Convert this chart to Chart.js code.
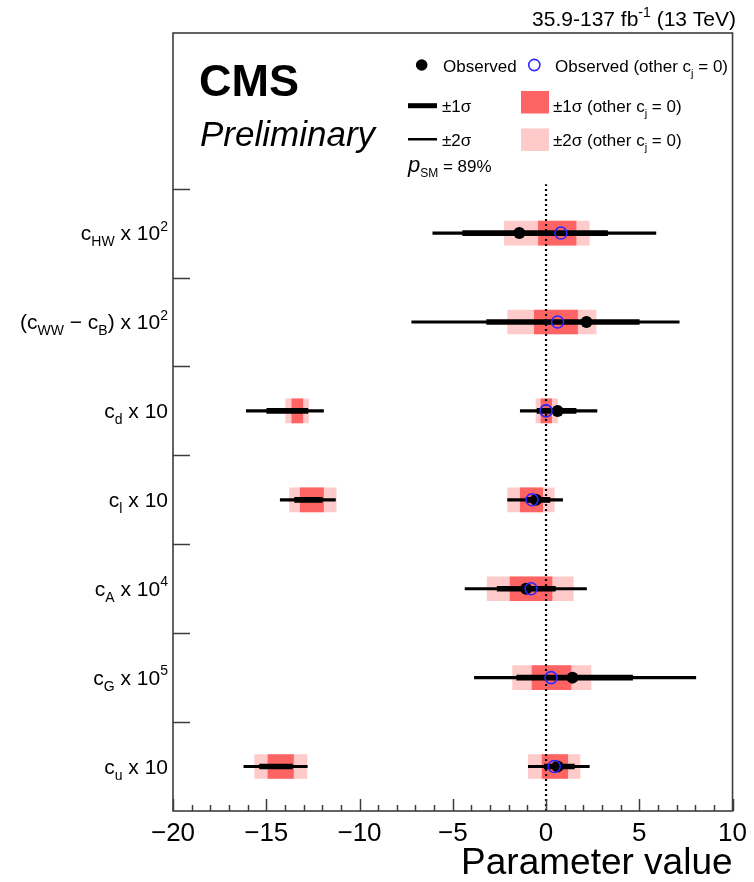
<!DOCTYPE html>
<html><head><meta charset="utf-8">
<script src="https://cdn.jsdelivr.net/npm/chart.js@4/dist/chart.umd.min.js"></script>
<style>html,body{margin:0;padding:0;background:#fff;}canvas{display:block;}</style>
</head><body>
<canvas id="c" width="754" height="882"></canvas>
<script>
// ---------------- DATA (top row first) ----------------
const categories = ['cHW x 10^2', '(cWW - cB) x 10^2', 'cd x 10', 'cl x 10', 'cA x 10^4', 'cG x 10^5', 'cu x 10'];
// tick labels as rich-text segments: [text, mode('', 'sub', 'sup')]
const categoryLabels = [
  [['c'], ['HW', 'sub'], [' x 10'], ['2', 'sup']],
  [['(c'], ['WW', 'sub'], [' \u2212 c'], ['B', 'sub'], [') x 10'], ['2', 'sup']],
  [['c'], ['d', 'sub'], [' x 10']],
  [['c'], ['l', 'sub'], [' x 10']],
  [['c'], ['A', 'sub'], [' x 10'], ['4', 'sup']],
  [['c'], ['G', 'sub'], [' x 10'], ['5', 'sup']],
  [['c'], ['u', 'sub'], [' x 10']]
];
// observed best fit (all floating) and observed with other cj = 0
const observed        = [-1.43, 2.17, 0.62, -0.54, -1.07, 1.42, 0.62];
const observedOthers0 = [ 0.80, 0.62, 0.00, -0.75, -0.80, 0.27, 0.44];
// +-1 sigma / +-2 sigma intervals (black lines)
const sigma1Lo = [-4.47, -3.18, -0.48, -1.07, -2.62, -1.57, -0.09];
const sigma1Hi = [ 3.30,  5.00,  1.61,  0.21,  0.50,  4.64,  1.52];
const sigma2Lo = [-6.07, -7.20, -1.38, -2.06, -4.34, -3.84, -0.95];
const sigma2Hi = [ 5.89,  7.14,  2.73,  0.89,  2.17,  8.03,  2.32];
// +-1 sigma / +-2 sigma intervals with other cj = 0 (red boxes)
const box1Lo = [-0.41, -0.63, -0.27, -1.38, -1.93, -0.75, -0.21];
const box1Hi = [ 1.61,  1.69,  0.30, -0.18,  0.32,  1.34,  1.16];
const box2Lo = [-2.23, -2.06, -0.54, -2.06, -3.16, -1.79, -0.95];
const box2Hi = [ 2.32,  2.68,  0.62,  0.44,  1.46,  2.41,  1.82];
// second (disjoint) intervals, null where absent
const alt1Lo    = [null, null, -14.97, -13.48, null, null, -15.36];
const alt1Hi    = [null, null, -12.77, -12.00, null, null, -13.60];
const alt2Lo    = [null, null, -16.07, -14.25, null, null, -16.20];
const alt2Hi    = [null, null, -11.93, -11.29, null, null, -12.80];
const altBox1Lo = [null, null, -13.63, -13.18, null, null, -14.91];
const altBox1Hi = [null, null, -13.04, -11.93, null, null, -13.54];
const altBox2Lo = [null, null, -13.96, -13.75, null, null, -15.62];
const altBox2Hi = [null, null, -12.73, -11.25, null, null, -12.82];
const xMin = -20, xMax = 10, xMajorStep = 5, xMinorStep = 1;
const pSM = '89%';

// ---------------- helpers ----------------
const FONT = "'Liberation Sans', Arial, Helvetica, sans-serif";
const N = categories.length;
const yMax = N + 1.75;
const rowPos = i => N - i - 0.5;
const C_DARK = '#ff6464', C_LIGHT = '#ffcaca', C_BLUE = '#2a2aff', C_FRAME = '#3c3c3c';

function barData(lo, hi) {
  return categories.map((_, i) => lo[i] == null ? null : { x: [lo[i], hi[i]], y: rowPos(i) }).filter(d => d);
}
function ptData(v) { return categories.map((_, i) => ({ x: v[i], y: rowPos(i) })); }
function barDS(lo, hi, color, thick, order) {
  return { type: 'bar', indexAxis: 'y', data: barData(lo, hi), backgroundColor: color,
           barThickness: thick, grouped: false, borderWidth: 0, order };
}

function segFont(s, size) {
  const small = s[1] === 'sub' || s[1] === 'sup';
  const sz = s[2] || (small ? Math.round(size * 0.66) : size);
  return (s[3] ? s[3] + ' ' : '') + sz + 'px ' + FONT;
}
function drawRich(ctx, segs, x, y, align, size) {
  ctx.save();
  ctx.textBaseline = 'alphabetic'; ctx.textAlign = 'left'; ctx.fillStyle = '#000';
  const widths = segs.map(s => { ctx.font = segFont(s, size); return ctx.measureText(s[0]).width; });
  const w = widths.reduce((a, b) => a + b, 0);
  let cx = align === 'right' ? x - w : x;
  segs.forEach((s, k) => {
    ctx.font = segFont(s, size);
    const dy = s[1] === 'sub' ? size * 0.3 : s[1] === 'sup' ? -size * 0.45 : 0;
    ctx.fillText(s[0], cx, y + dy);
    cx += widths[k];
  });
  ctx.restore();
}

const decor = {
  id: 'decor',
  afterDraw(chart) {
    const ctx = chart.ctx, a = chart.chartArea, xs = chart.scales.x, ys = chart.scales.y;
    ctx.save();
    // frame
    ctx.strokeStyle = C_FRAME; ctx.lineWidth = 1.6;
    ctx.strokeRect(a.left, a.top, a.right - a.left, a.bottom - a.top);
    // x ticks (inward)
    ctx.lineWidth = 1.5;
    for (let v = xMin; v <= xMax; v += xMinorStep) {
      const px = Math.round(xs.getPixelForValue(v)) + 0.5;
      const len = (v % xMajorStep === 0) ? 12 : 6;
      ctx.beginPath(); ctx.moveTo(px, a.bottom); ctx.lineTo(px, a.bottom - len); ctx.stroke();
    }
    // y ticks (inward) at category boundaries
    for (let k = 1; k <= N; k++) {
      const py = Math.round(ys.getPixelForValue(k)) + 0.5;
      ctx.beginPath(); ctx.moveTo(a.left, py); ctx.lineTo(a.left + 17, py); ctx.stroke();
    }
    ctx.restore();
    // category labels
    categoryLabels.forEach((segs, i) => {
      drawRich(ctx, segs, a.left - 5, ys.getPixelForValue(rowPos(i)) + 7, 'right', 21);
    });
    // top-right luminosity text
    drawRich(ctx, [['35.9-137 fb'], ['-1', 'sup'], [' (13 TeV)']], 736, 26, 'right', 21);
    // CMS Preliminary
    ctx.save(); ctx.fillStyle = '#000'; ctx.textBaseline = 'alphabetic'; ctx.textAlign = 'left';
    ctx.font = 'bold 45px ' + FONT; ctx.fillText('CMS', 199, 96);
    ctx.font = 'italic 35px ' + FONT; ctx.fillText('Preliminary', 200, 146);
    // legend symbols
    ctx.fillStyle = '#000';
    ctx.beginPath(); ctx.arc(421.7, 65, 5.8, 0, Math.PI * 2); ctx.fill();
    ctx.strokeStyle = C_BLUE; ctx.lineWidth = 1.6;
    ctx.beginPath(); ctx.arc(534.3, 65, 5.6, 0, Math.PI * 2); ctx.stroke();
    ctx.fillStyle = '#000';
    ctx.fillRect(408, 103.2, 29, 5);
    ctx.fillRect(408, 138, 29, 2.5);
    ctx.fillStyle = C_DARK; ctx.fillRect(521, 91, 28, 22.5);
    ctx.fillStyle = C_LIGHT; ctx.fillRect(521, 128.5, 28, 22.5);
    ctx.restore();
    // legend texts
    drawRich(ctx, [['Observed']], 443, 71.5, 'left', 17);
    drawRich(ctx, [['Observed (other c'], ['j', 'sub', 11], [' = 0)']], 555, 71.5, 'left', 17);
    drawRich(ctx, [['\u00b11\u03c3']], 442, 112, 'left', 17);
    drawRich(ctx, [['\u00b11\u03c3 (other c'], ['j', 'sub', 11], [' = 0)']], 553, 112, 'left', 17);
    drawRich(ctx, [['\u00b12\u03c3']], 442, 146, 'left', 17);
    drawRich(ctx, [['\u00b12\u03c3 (other c'], ['j', 'sub', 11], [' = 0)']], 553, 146, 'left', 17);
    drawRich(ctx, [['p', '', 22, 'italic'], ['SM', 'sub', 12], [' = ' + pSM]], 408, 172, 'left', 17);
  }
};

new Chart(document.getElementById('c'), {
  type: 'scatter',
  data: {
    datasets: [
      barDS(box2Lo, box2Hi, C_LIGHT, 24, 60),
      barDS(altBox2Lo, altBox2Hi, C_LIGHT, 24, 60),
      barDS(box1Lo, box1Hi, C_DARK, 24, 55),
      barDS(altBox1Lo, altBox1Hi, C_DARK, 24, 55),
      { type: 'line', data: [{ x: 0, y: 0 }, { x: 0, y: N + 0.05 }], borderColor: '#000', borderWidth: 2.2,
        borderDash: [2, 3], pointRadius: 0, fill: false, order: 50 },
      barDS(sigma2Lo, sigma2Hi, '#000', 2.5, 40),
      barDS(alt2Lo, alt2Hi, '#000', 2.5, 40),
      barDS(sigma1Lo, sigma1Hi, '#000', 5, 30),
      barDS(alt1Lo, alt1Hi, '#000', 5, 30),
      { type: 'scatter', data: ptData(observed), pointRadius: 6, pointBackgroundColor: '#000',
        pointBorderColor: '#000', pointBorderWidth: 0, order: 20 },
      { type: 'scatter', data: ptData(observedOthers0), pointRadius: 6, pointBackgroundColor: 'rgba(0,0,0,0)',
        pointBorderColor: C_BLUE, pointBorderWidth: 1.6, order: 10 }
    ]
  },
  options: {
    responsive: false, devicePixelRatio: 1, animation: false, events: [],
    layout: { padding: { left: 173, right: 21, top: 33, bottom: 0 } },
    plugins: { legend: { display: false }, tooltip: { enabled: false } },
    scales: {
      x: {
        type: 'linear', min: xMin, max: xMax, offset: false,
        grid: { display: false, drawTicks: false }, border: { display: false },
        ticks: { stepSize: xMajorStep, padding: 7, maxRotation: 0, autoSkip: false, color: '#000',
                 font: { family: FONT, size: 26 },
                 callback: v => (v < 0 ? '\u2212' + Math.abs(v) : String(v)) },
        title: { display: true, text: 'Parameter value', align: 'end', color: '#000',
                 font: { family: FONT, size: 37 }, padding: { top: 0, bottom: -4 } },
        afterFit: s => { s.height = 71; }
      },
      y: { type: 'linear', min: 0, max: yMax, offset: false, display: false, grid: { display: false } }
    }
  },
  plugins: [decor]
});
</script>
</body></html>
